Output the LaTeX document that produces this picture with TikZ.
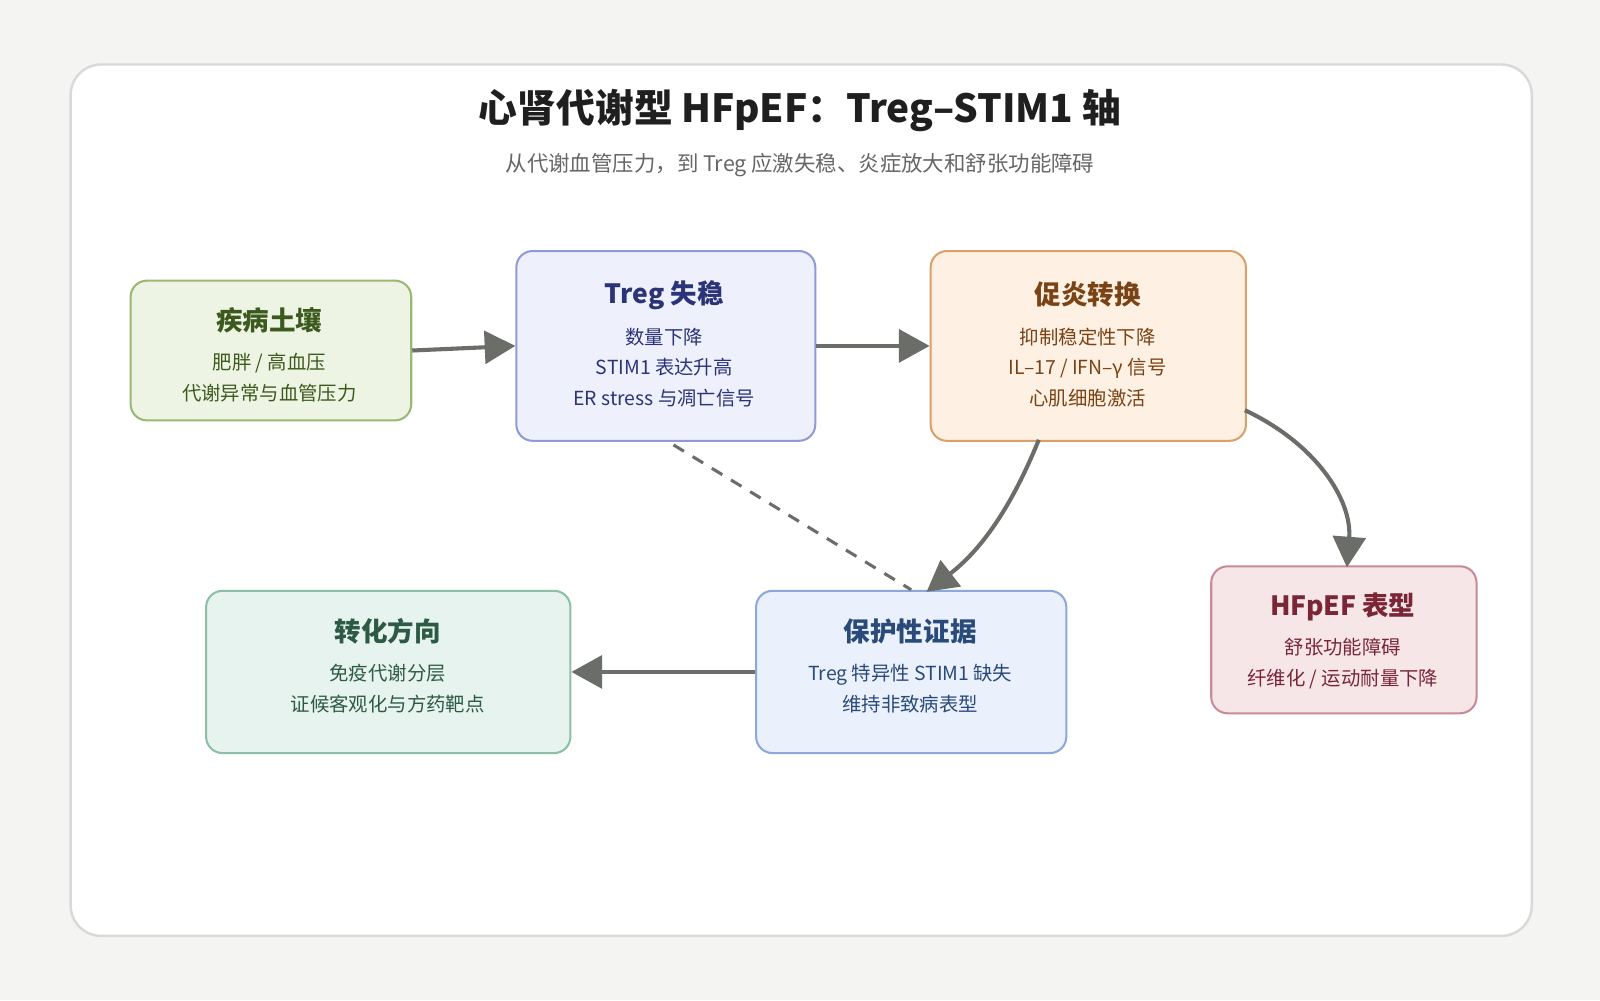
\documentclass[tikz,border=0pt]{standalone}
\usepackage{fontspec}
\setmainfont{Noto Sans CJK SC}
\usetikzlibrary{arrows.meta}
\definecolor{bgc}{HTML}{F4F4F2}
\definecolor{arr}{HTML}{6B6D68}
\definecolor{kA}{RGB}{61,90,30}\definecolor{fA}{RGB}{238,244,228}\definecolor{dA}{RGB}{154,184,116}
\definecolor{kB}{RGB}{43,52,119}\definecolor{fB}{RGB}{238,240,251}\definecolor{dB}{RGB}{143,154,216}
\definecolor{kC}{RGB}{122,67,22}\definecolor{fC}{RGB}{254,240,226}\definecolor{dC}{RGB}{217,160,106}
\definecolor{kD}{RGB}{122,38,54}\definecolor{fD}{RGB}{246,230,232}\definecolor{dD}{RGB}{201,138,149}
\definecolor{kE}{RGB}{42,74,122}\definecolor{fE}{RGB}{234,241,252}\definecolor{dE}{RGB}{138,168,216}
\definecolor{kF}{RGB}{44,90,68}\definecolor{fF}{RGB}{231,243,238}\definecolor{dF}{RGB}{140,191,165}
\begin{document}
\begin{tikzpicture}[x=0.5pt,y=-0.5pt,
  box/.style={draw,line width=1pt,rounded corners=8pt,anchor=north west,inner sep=0pt},
  ttl/.style={font=\fontsize{13}{15}\selectfont\bfseries},
  bdy/.style={font=\fontsize{9.5}{15}\selectfont,align=center},
  ar/.style={draw=arr,line width=2pt,-{Triangle[length=15pt,width=16pt]}}]
\fill[bgc] (0,0) rectangle (1568,980);
\useasboundingbox (0,0) rectangle (1568,980);
\node[draw=black!15,line width=1.2pt,fill=white,rounded corners=15pt,anchor=north west,minimum width=716pt,minimum height=427pt] (frame) at (68,62) {};
\node[font=\fontsize{19}{22}\selectfont\bfseries,text=black!88] (title) at (784,108) {心肾代谢型 HFpEF：Treg–STIM1 轴};
\node[font=\fontsize{10.5}{13}\selectfont,text=black!60] (sub) at (784,162) {从代谢血管压力，到 Treg 应激失稳、炎症放大和舒张功能障碍};
\node[box,draw=dA,fill=fA,minimum width=137.5pt,minimum height=68.5pt] (b1) at (127,274) {};
\node[box,draw=dB,fill=fB,minimum width=146.5pt,minimum height=93pt] (b2) at (505,245) {};
\node[box,draw=dC,fill=fC,minimum width=154.5pt,minimum height=93pt] (b3) at (911,245) {};
\node[box,draw=dD,fill=fD,minimum width=130pt,minimum height=72pt] (b4) at (1186,554) {};
\node[box,draw=dE,fill=fE,minimum width=152pt,minimum height=79.5pt] (b5) at (740,578) {};
\node[box,draw=dF,fill=fF,minimum width=178.5pt,minimum height=79.5pt] (b6) at (201,578) {};
\node[ttl,text=kA] (t1) at (264,314) {疾病土壤};
\node[bdy,text=kA] (d1) at (264,370) {肥胖 / 高血压\\代谢异常与血管压力};
\node[ttl,text=kB] (t2) at (651,289) {Treg 失稳};
\node[bdy,text=kB] (d2) at (651,360) {数量下降\\STIM1 表达升高\\ER stress 与凋亡信号};
\node[ttl,text=kC] (t3) at (1066,289) {促炎转换};
\node[bdy,text=kC] (d3) at (1066,360) {抑制稳定性下降\\IL–17 / IFN–γ 信号\\心肌细胞激活};
\node[ttl,text=kD] (t4) at (1316,595) {HFpEF 表型};
\node[bdy,text=kD] (d4) at (1316,650) {舒张功能障碍\\纤维化 / 运动耐量下降};
\node[ttl,text=kE] (t5) at (892,619) {保护性证据};
\node[bdy,text=kE] (d5) at (892,675) {Treg 特异性 STIM1 缺失\\维持非致病表型};
\node[ttl,text=kF] (t6) at (380,619) {转化方向};
\node[bdy,text=kF] (d6) at (380,675) {免疫代谢分层\\证候客观化与方药靶点};
\draw[ar] (b1.east) -- (b2.west);
\draw[ar] (b2.east) -- (b3.west);
\coordinate (s3) at (1018,431);
\coordinate (e5) at (908,580);
\draw[ar] (s3) .. controls (990,500) and (960,540) .. (e5);
\coordinate (s4) at (1220,402);
\coordinate (e4) at (1320,556);
\draw[ar] (s4) .. controls (1290,435) and (1325,490) .. (e4);
\draw[ar] (b5.west) -- (b6.east);
\coordinate (ds) at (660,436);
\coordinate (de) at (893,578);
\draw[arr,line width=1.5pt,dash pattern=on 6pt off 5pt] (ds) -- (de);
\end{tikzpicture}
\end{document}
